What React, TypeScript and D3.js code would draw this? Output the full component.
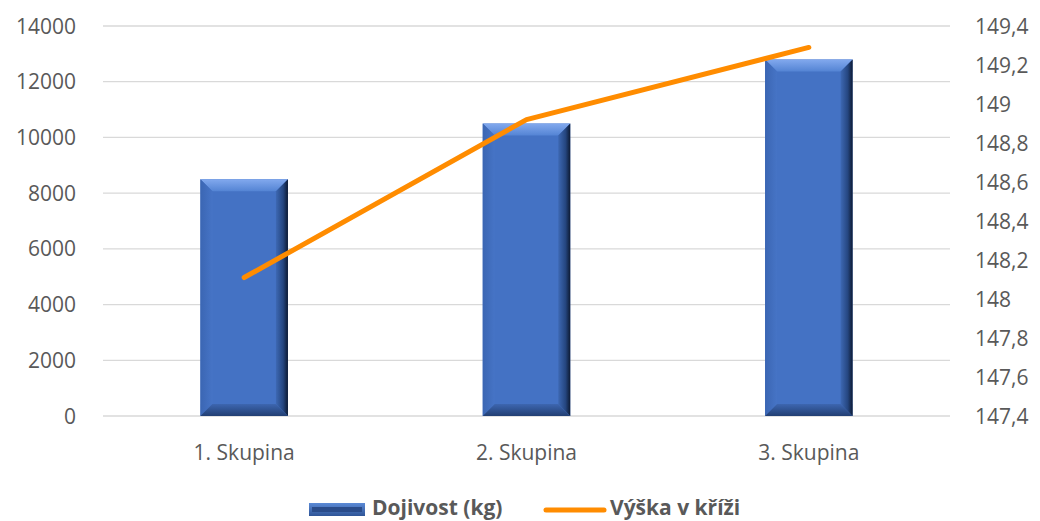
import React from "react";
import * as d3 from "d3";

const categories = ["1. Skupina", "2. Skupina", "3. Skupina"];
const milkYield = [8500, 10500, 12800];
const height = [148.11, 148.92, 149.29];
const leftTicks = [0, 2000, 4000, 6000, 8000, 10000, 12000, 14000];
const rightTicks = [147.4, 147.6, 147.8, 148, 148.2, 148.4, 148.6, 148.8, 149, 149.2, 149.4];
const seriesNames = ["Dojivost (kg)", "Výška v kříži"];

const W = 1040;
const H = 521;
const plot = { left: 103, right: 950, top: 26, bottom: 416 };
const FONT = "'Open Sans', Lato, sans-serif";
const TXT = "#595959";

function Bar({ x, y, w, h }: { x: number; y: number; w: number; h: number }) {
  const b = Math.min(12, h / 2);
  const x2 = x + w;
  const y2 = y + h;
  const pts = (a: number[][]) => a.map((p) => p.join(",")).join(" ");
  return (
    <g>
      <rect x={x} y={y} width={w} height={h} fill="#4472c4" />
      <polygon points={pts([[x, y], [x2, y], [x2 - b, y + b], [x + b, y + b]])} fill="url(#gTop)" />
      <polygon points={pts([[x, y], [x + b, y + b], [x + b, y2 - b], [x, y2]])} fill="url(#gLeft)" />
      <polygon points={pts([[x2, y], [x2, y2], [x2 - b, y2 - b], [x2 - b, y + b]])} fill="url(#gRight)" />
      <polygon points={pts([[x, y2], [x + b, y2 - b], [x2 - b, y2 - b], [x2, y2]])} fill="url(#gBottom)" />
    </g>
  );
}

export default function App() {
  const x = d3.scaleBand<string>().domain(categories).range([plot.left, plot.right]);
  const yL = d3.scaleLinear().domain([0, 14000]).range([plot.bottom, plot.top]);
  const yR = d3.scaleLinear().domain([147.4, 149.4]).range([plot.bottom, plot.top]);
  const barW = x.bandwidth() * 0.31;
  const fmtR = (v: number) => String(+v.toFixed(1)).replace(".", ",");
  const line = d3
    .line<number>()
    .x((_, i) => x(categories[i])! + x.bandwidth() / 2)
    .y((d) => yR(d));

  return (
    <svg width={W} height={H} style={{ position: "absolute", left: 0, top: 0, background: "#fff" }}>
      <defs>
        <linearGradient id="gTop" x1="0" y1="0" x2="0" y2="1">
          <stop offset="0" stopColor="#82a9ee" />
          <stop offset="1" stopColor="#5484d4" />
        </linearGradient>
        <linearGradient id="gLeft" x1="0" y1="0" x2="1" y2="0">
          <stop offset="0" stopColor="#3b66b3" />
          <stop offset="1" stopColor="#4674c6" />
        </linearGradient>
        <linearGradient id="gRight" x1="0" y1="0" x2="1" y2="0">
          <stop offset="0" stopColor="#3d68b3" />
          <stop offset="0.6" stopColor="#254680" />
          <stop offset="1" stopColor="#0d1a33" />
        </linearGradient>
        <linearGradient id="gBottom" x1="0" y1="0" x2="0" y2="1">
          <stop offset="0" stopColor="#3d66b0" />
          <stop offset="1" stopColor="#223f73" />
        </linearGradient>
        <linearGradient id="gLeg" x1="0" y1="0" x2="0" y2="1">
          <stop offset="0" stopColor="#5b8ad6" />
          <stop offset="1" stopColor="#2f5597" />
        </linearGradient>
      </defs>

      {leftTicks.map((t) => (
        <g key={t}>
          <line x1={plot.left} x2={plot.right} y1={yL(t)} y2={yL(t)} stroke="#d9d9d9" strokeWidth={1.3} />
          <text x={76} y={yL(t)} dy="0.36em" textAnchor="end" fontFamily={FONT} fontSize={21} fill={TXT}>
            {t}
          </text>
        </g>
      ))}
      {rightTicks.map((t) => (
        <text key={t} x={975} y={yR(t)} dy="0.36em" textAnchor="start" fontFamily={FONT} fontSize={21} fill={TXT}>
          {fmtR(t)}
        </text>
      ))}

      {categories.map((c, i) => (
        <Bar
          key={c}
          x={x(c)! + (x.bandwidth() - barW) / 2}
          y={yL(milkYield[i])}
          w={barW}
          h={yL(0) - yL(milkYield[i])}
        />
      ))}

      <path d={line(height) ?? ""} fill="none" stroke="#ff8c00" strokeWidth={5} strokeLinecap="round" strokeLinejoin="round" />

      {categories.map((c) => (
        <text key={c} x={x(c)! + x.bandwidth() / 2} y={452} dy="0.36em" textAnchor="middle" fontFamily={FONT} fontSize={21} fill={TXT}>
          {c}
        </text>
      ))}

      <g>
        <rect x={309} y={503} width={56} height={13} fill="url(#gLeg)" />
        <rect x={312} y={507} width={50} height={5} fill="#2a4c8a" />
        <text x={372} y={507} dy="0.36em" fontFamily={FONT} fontWeight="bold" fontSize={21} fill={TXT}>
          {seriesNames[0]}
        </text>
        <line x1={546} x2={604} y1={510} y2={510} stroke="#ff8c00" strokeWidth={5} strokeLinecap="round" />
        <text x={610} y={507} dy="0.36em" fontFamily={FONT} fontWeight="bold" fontSize={21} fill={TXT}>
          {seriesNames[1]}
        </text>
      </g>
    </svg>
  );
}
